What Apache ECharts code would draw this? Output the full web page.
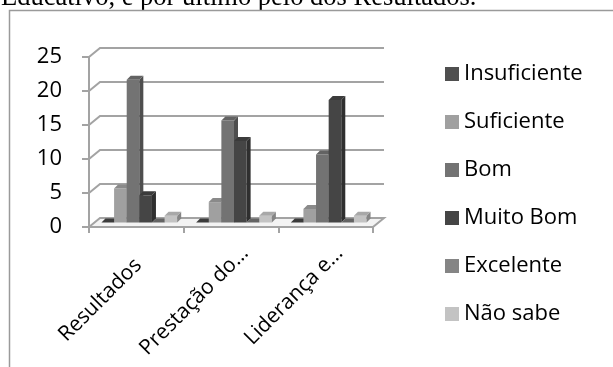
<!DOCTYPE html>
<html>
<head>
<meta charset="utf-8">
<script src="https://cdn.jsdelivr.net/npm/echarts@6/dist/echarts.min.js"></script>
<style>
html,body{margin:0;padding:0;background:#fff;}
#chart{width:613px;height:367px;}
</style>
</head>
<body>
<div id="chart"></div>
<script>
// ---- data ----
const categories = ['Resultados', 'Prestação do…', 'Liderança e…'];
const seriesNames = ['Insuficiente', 'Suficiente', 'Bom', 'Muito Bom', 'Excelente', 'Não sabe'];
const insuficiente = [0, 0, 0];
const suficiente = [5, 3, 2];
const bom = [21, 15, 10];
const muitoBom = [4, 12, 18];
const excelente = [0, 0, 0];
const naoSabe = [1, 1, 1];
const yTicks = [0, 5, 10, 15, 20, 25];
const headerText = 'Educativo, e por último pelo dos Resultados.';

// ---- styling ----
const colors = ['#4f4f4f', '#a0a0a0', '#737373', '#454545', '#858585', '#c3c3c3'];
const seriesData = [insuficiente, suficiente, bom, muitoBom, excelente, naoSabe];
const FONT = '"Open Sans", "Noto Sans", sans-serif';
const WALL_DX = 11, WALL_DY = -9;   // depth of the plot box
const BAR_DX = 3, BAR_DY = -4.5;    // bars sit mid-depth
const BD_X = 4, BD_Y = -4;          // depth of a bar
const GRID_COLOR = '#a3a3a3';
const labelPads = [[0, 17, 0, 0], [0, 0, 0, 0], [0, 0, 0, 0]];

function shade(hex, f) {
  const n = parseInt(hex.slice(1), 16);
  const r = Math.round(((n >> 16) & 255) * f);
  const g = Math.round(((n >> 8) & 255) * f);
  const b = Math.round((n & 255) * f);
  return 'rgb(' + Math.min(255, r) + ',' + Math.min(255, g) + ',' + Math.min(255, b) + ')';
}

function barRenderer(i) {
  return function (params, api) {
    const ci = api.value(0), v = api.value(1);
    const base = api.coord([ci, 0]);
    const top = api.coord([ci, v]);
    const band = api.size([1, 0])[0];
    const bw = band / 7.5;
    const xl = base[0] + (i - 3) * bw + BAR_DX;
    const xr = xl + bw;
    const yb = base[1] + BAR_DY;
    const yt = top[1] + BAR_DY;
    const c = colors[i];
    const children = [];
    if (yb - yt > 0.01) {
      children.push({ type: 'rect', shape: { x: xl, y: yt, width: bw, height: yb - yt }, style: { fill: c } });
      children.push({ type: 'polygon', shape: { points: [[xr, yt], [xr + BD_X, yt + BD_Y], [xr + BD_X, yb + BD_Y], [xr, yb]] }, style: { fill: shade(c, 0.68) } });
    }
    children.push({ type: 'polygon', shape: { points: [[xl, yt], [xl + BD_X, yt + BD_Y], [xr + BD_X, yt + BD_Y], [xr, yt]] }, style: { fill: shade(c, v === 0 ? 0.75 : 0.86) } });
    return { type: 'group', children: children };
  };
}

function wallRenderer(params, api) {
  const v = api.value(1);
  const p = api.coord([0, v]);
  const cs = params.coordSys;
  const x0 = cs.x, x1 = cs.x + cs.width;
  const y = p[1];
  const children = [];
  if (v === 0) {
    children.push({ type: 'polygon', shape: { points: [[x0, y], [x0 + WALL_DX, y + WALL_DY], [x1 + WALL_DX, y + WALL_DY], [x1, y]] },
      style: { fill: '#f3f3f3', stroke: GRID_COLOR, lineWidth: 2 } });
  } else {
    children.push({ type: 'polyline', shape: { points: [[x0, y], [x0 + WALL_DX, y + WALL_DY], [x1 + WALL_DX, y + WALL_DY]] },
      style: { fill: null, stroke: GRID_COLOR, lineWidth: 2 } });
  }
  return { type: 'group', children: children };
}

const series = [{
  type: 'custom', name: '_walls', silent: true, z: 1,
  encode: { x: 0, y: 1 },
  data: yTicks.map(v => [0, v]),
  renderItem: wallRenderer
}];
seriesNames.forEach((name, i) => {
  series.push({
    type: 'custom', name: name, z: 3,
    itemStyle: { color: colors[i] },
    encode: { x: 0, y: 1 },
    data: seriesData[i].map((v, ci) => [ci, v]),
    renderItem: barRenderer(i)
  });
});

const chart = echarts.init(document.getElementById('chart'), null, { renderer: 'canvas' });
chart.setOption({
  animation: false,
  backgroundColor: '#fff',
  textStyle: { fontFamily: FONT },
  graphic: [
    { type: 'text', x: 1, y: -2, style: { text: headerText, font: '26.5px "Liberation Serif", "Times New Roman", serif', fill: '#000', verticalAlign: 'middle' } },
    { type: 'polyline', shape: { points: [[9.5, 367], [9.5, 10.5], [613, 10.5]] }, style: { fill: null, stroke: '#9a9a9a', lineWidth: 1.5 } }
  ],
  grid: [
    { left: 89, top: 57, width: 284, height: 170 },
    { left: 103, top: 57, width: 284, height: 170 }
  ],
  legend: {
    orient: 'vertical', left: 440, top: 57,
    data: seriesNames, icon: 'rect', itemWidth: 14, itemHeight: 14, itemGap: 24,
    textStyle: { fontFamily: FONT, fontSize: 22, color: '#000', lineHeight: 24 }
  },
  xAxis: [{
    type: 'category', data: categories, gridIndex: 0,
    axisLine: { show: true, lineStyle: { color: GRID_COLOR, width: 2 } },
    axisTick: { show: true, length: 6, interval: 0, lineStyle: { color: GRID_COLOR, width: 2 } },
    axisLabel: { show: false }
  }, {
    type: 'category', gridIndex: 1,
    data: categories.map((c, k) => ({ value: c, textStyle: { padding: labelPads[k] } })),
    axisLine: { show: false }, axisTick: { show: false },
    axisLabel: { rotate: 45, interval: 0, margin: 23, fontSize: 21, color: '#000', fontFamily: FONT }
  }],
  yAxis: [{
    type: 'value', min: 0, max: 25, interval: 5, gridIndex: 0,
    axisLine: { show: true, lineStyle: { color: GRID_COLOR, width: 2 } },
    axisTick: { show: true, length: 7, lineStyle: { color: GRID_COLOR, width: 2 } },
    splitLine: { show: false },
    axisLabel: { margin: 27, fontSize: 22, color: '#000', fontFamily: FONT }
  }, {
    type: 'value', min: 0, max: 25, interval: 5, gridIndex: 1, show: false
  }],
  series: series
});
</script>
</body>
</html>
